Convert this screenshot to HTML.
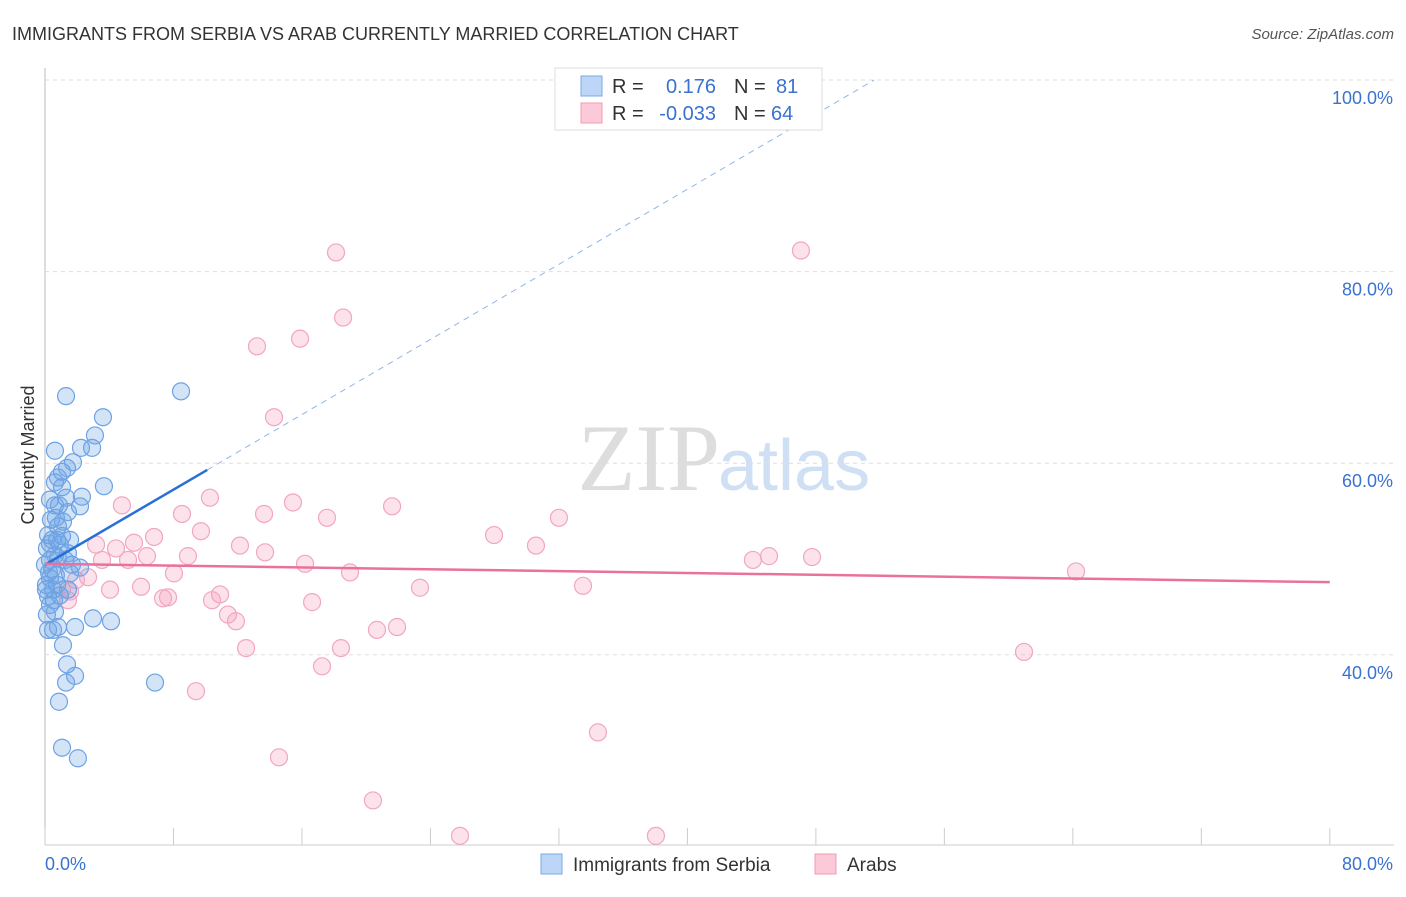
<!DOCTYPE html>
<html><head><meta charset="utf-8"><style>
body{margin:0;background:#fff;font-family:"Liberation Sans",sans-serif;}
</style></head><body>
<svg id="c" width="1406" height="892" xmlns="http://www.w3.org/2000/svg">
<text x="12" y="40" font-size="18" fill="#333">IMMIGRANTS FROM SERBIA VS ARAB CURRENTLY MARRIED CORRELATION CHART</text>
<text x="1394" y="39" font-size="15" fill="#555" text-anchor="end" font-style="italic">Source: ZipAtlas.com</text>
<text x="720" y="490" font-size="95" fill="#ddd" text-anchor="end" font-family="Liberation Serif">ZIP</text>
<text x="718" y="490" font-size="72" fill="#cfe0f5">atlas</text>
<text transform="translate(34,455) rotate(-90)" font-size="18" fill="#333" text-anchor="middle">Currently Married</text>
<g id="grid"></g><g id="marks"></g>
<g>
<rect x="555" y="68" width="267" height="62" fill="#fff" stroke="#ddd"/>
<rect x="581" y="76" width="21" height="20" fill="#bcd6f7" stroke="#7aaae6"/>
<rect x="581" y="103" width="21" height="20" fill="#fbc9d8" stroke="#f09ab5"/>
<text x="612" y="93" font-size="20" fill="#333">R =</text>
<text x="716" y="93" font-size="20" fill="#3a72cf" text-anchor="end">0.176</text>
<text x="734" y="93" font-size="20" fill="#333">N =</text>
<text x="776" y="93" font-size="20" fill="#3a72cf">81</text>
<text x="612" y="120" font-size="20" fill="#333">R =</text>
<text x="716" y="120" font-size="20" fill="#3a72cf" text-anchor="end">-0.033</text>
<text x="734" y="120" font-size="20" fill="#333">N =</text>
<text x="771" y="120" font-size="20" fill="#3a72cf">64</text>
</g>
<g>
<rect x="541" y="854" width="21" height="20" fill="#bcd6f7" stroke="#7aaae6"/>
<text x="573" y="871" font-size="19" fill="#333">Immigrants from Serbia</text>
<rect x="815" y="854" width="21" height="20" fill="#fbc9d8" stroke="#f09ab5"/>
<text x="847" y="871" font-size="19" fill="#333">Arabs</text>
</g>
</svg>
<script>
const yTicks=[40,60,80,100];
const xTickLabels=["0.0%","80.0%"];
const blueX=[1.31,8.47,3.61,3.11,0.62,2.93,2.24,1.74,1.37,0.81,1.06,3.67,2.3,0.62,2.18,1.43,0.68,1.12,0.81,1.06,0.75,0.31,1.43,0.62,0.31,0,0.44,2.18,1.56,0.31,0.06,0.5,0.19,0.31,0.62,2.99,4.11,1.87,0.81,0.19,1.12,1.37,1.87,1.31,6.85,0.87,1.06,2.05,0.37,0.12,0.56,0.93,1.25,1.68,0.75,0.25,0.44,0.87,1.31,0.12,0.5,0.06,0.93,1.43,0.68,0.31,0.62,1.06,0.19,1.56,0.81];
const blueY=[67.0,67.5,64.8,62.9,61.3,61.6,61.6,60.1,59.5,58.5,57.5,57.6,56.5,55.6,55.5,54.9,54.3,53.9,53.4,52.4,52.0,51.6,50.6,50.4,49.9,49.4,48.9,49.1,48.5,48.0,47.3,46.8,46.1,45.2,44.5,43.8,43.5,42.9,42.9,42.6,41.0,39.0,37.8,37.1,37.1,35.1,30.3,29.2,54.1,51.1,45.7,51.5,49.9,49.4,47.3,48.6,52.0,55.6,56.4,44.2,42.6,46.8,46.2,46.8,48.3,56.2,58.0,59.1,52.5,52.0,50.1];
const pinkX=[18.12,47.07,18.56,13.2,15.88,14.26,4.79,10.27,15.44,21.61,8.53,13.64,17.56,32.0,9.71,6.79,27.96,3.18,4.42,5.54,12.14,30.57,6.35,8.9,13.7,16.19,3.55,5.17,45.08,44.08,47.76,18.99,64.2,8.03,2.68,1.93,5.98,4.05,23.35,33.5,10.9,7.35,7.66,10.4,16.63,11.39,11.89,1.43,1.06,1.56,20.67,21.92,18.43,12.52,17.25,60.96,9.4,34.43,14.57,20.42,25.84,38.04];
const pinkY=[82.0,82.2,75.2,72.2,73.0,64.8,55.6,56.4,55.9,55.5,54.7,54.7,54.3,54.3,52.9,52.3,52.5,51.5,51.1,51.7,51.4,51.4,50.3,50.3,50.7,49.5,49.9,49.9,50.3,49.9,50.2,48.6,48.7,48.5,48.1,47.8,47.1,46.8,47.0,47.2,46.3,45.9,46.0,45.7,45.5,44.2,43.5,45.7,46.8,46.6,42.6,42.9,40.7,40.7,38.8,40.3,36.2,31.9,29.3,24.8,21.1,21.1];
const blueFit=[49.4,0.98];
const pinkFit=[49.5,-0.024];
const X=v=>45+v*16.06, Y=v=>80+(100-v)*9.58;
const NS="http://www.w3.org/2000/svg";
function mk(t,a,p){const e=document.createElementNS(NS,t);for(const k in a)e.setAttribute(k,a[k]);p.appendChild(e);return e;}
const g=document.getElementById('grid'), m=document.getElementById('marks');
mk('line',{x1:45,y1:68,x2:45,y2:845,stroke:'#bbb'},g);
mk('line',{x1:45,y1:845,x2:1394,y2:845,stroke:'#ccc'},g);
yTicks.forEach(t=>{
 const l=mk('line',{x1:45,y1:Y(t),x2:1394,y2:Y(t),stroke:'#ddd','stroke-dasharray':'4,4'},g);
 
 
 const tx=mk('text',{x:1393,y:Y(t)+24,'font-size':18,fill:'#3a72cf','text-anchor':'end'},g);
 tx.textContent=t.toFixed(1)+'%';
 
 
});
for(let i=0;i<=10;i++){const l=mk('line',{x1:X(i*8),y1:828,x2:X(i*8),y2:845,stroke:'#ccc'},g);
 
 }
xTickLabels.forEach((s,i)=>{const tx=mk('text',{x:i?1393:45,y:870,'font-size':18,fill:'#3a72cf','text-anchor':i?'end':'start'},g);tx.textContent=s;
 
 });
pinkX.forEach((x,i)=>{const c=mk('circle',{cx:X(x),cy:Y(pinkY[i]),r:8.5,fill:'rgba(244,160,188,0.3)',stroke:'#f2a6c0','stroke-width':1.2},m);
 
 });
blueX.forEach((x,i)=>{const c=mk('circle',{cx:X(x),cy:Y(blueY[i]),r:8.5,fill:'rgba(110,165,230,0.3)',stroke:'#6ea2e4','stroke-width':1.2},m);
 
 });
const xEnd=(100-blueFit[0])/blueFit[1];
let l=mk('line',{x1:X(10.1),y1:Y(blueFit[0]+blueFit[1]*10.1),x2:X(xEnd),y2:Y(100),stroke:'#8fb6e8','stroke-dasharray':'6,5'},m);


l=mk('line',{x1:X(0),y1:Y(blueFit[0]),x2:X(10.1),y2:Y(blueFit[0]+blueFit[1]*10.1),stroke:'#2a6fd6','stroke-width':2.5},m);


l=mk('line',{x1:X(0),y1:Y(pinkFit[0]),x2:X(80),y2:Y(pinkFit[0]+pinkFit[1]*80),stroke:'#e8729c','stroke-width':2.5},m);


</script>
</body></html>
